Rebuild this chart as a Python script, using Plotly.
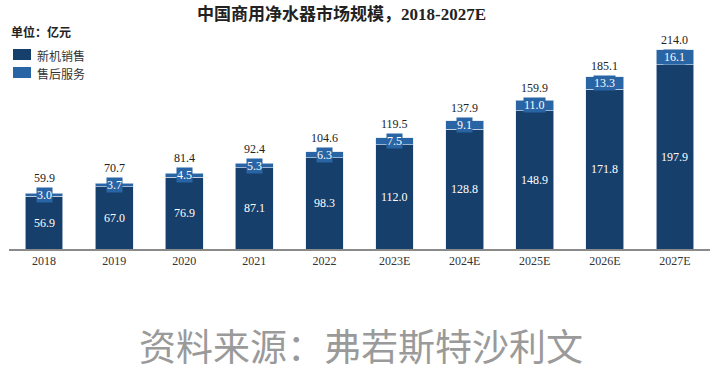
import plotly.graph_objects as go

years = ["2018", "2019", "2020", "2021", "2022", "2023E", "2024E", "2025E", "2026E", "2027E"]
new_sales = [56.9, 67.0, 76.9, 87.1, 98.3, 112.0, 128.8, 148.9, 171.8, 197.9]
after_sales = [3.0, 3.7, 4.5, 5.3, 6.3, 7.5, 9.1, 11.0, 13.3, 16.1]
totals = [59.9, 70.7, 81.4, 92.4, 104.6, 119.5, 137.9, 159.9, 185.1, 214.0]
series_names = ["新机销售", "售后服务"]

DARK = "#173f6c"
LIGHT = "#2964a5"
SERIF = "Times New Roman, Liberation Serif, Noto Sans CJK SC, serif"
SANS = "Noto Sans CJK SC, Noto Sans, sans-serif"

# plot area in pixels
L, R, T, B = 9, 710, 40, 249
W, H = R - L, B - T
def px(x): return (x - L) / W
def py(y): return (B - y) / H

YMAX = 224.7
PX_PER_UNIT = H / YMAX

fig = go.Figure()
edge = dict(color="rgba(220,228,238,0.8)", width=0.8)
fig.add_trace(go.Bar(x=years, y=new_sales, name=series_names[0], marker=dict(color=DARK, line=edge), showlegend=False))
fig.add_trace(go.Bar(x=years, y=after_sales, name=series_names[1], marker=dict(color=LIGHT, line=edge), showlegend=False))

ann = []
for i, yr in enumerate(years):
    ann.append(dict(x=i, y=new_sales[i] / 2, text=f"{new_sales[i]:.1f}", showarrow=False,
                    font=dict(family=SERIF, size=12, color="white")))
    ann.append(dict(x=i, y=new_sales[i] + after_sales[i] / 2, text=f"{after_sales[i]:.1f}", showarrow=False,
                    font=dict(family=SERIF, size=12, color="white"), bgcolor=LIGHT, borderpad=0))
    shift = max(1, 8 - after_sales[i] * PX_PER_UNIT / 2)
    ann.append(dict(x=i, y=totals[i], text=f"{totals[i]:.1f}", showarrow=False, yanchor="bottom", yshift=shift,
                    font=dict(family=SERIF, size=12, color="#222222")))

ann.append(dict(xref="paper", yref="paper", x=px(341), y=py(14), text="<b>中国商用净水器市场规模，2018-2027E</b>",
                showarrow=False, font=dict(family=SERIF, size=17, color="#222222"), xanchor="center", yanchor="middle"))
ann.append(dict(xref="paper", yref="paper", x=px(9), y=py(33), text="<b>单位：亿元</b>",
                showarrow=False, font=dict(family=SERIF, size=12, color="#222222"), xanchor="left", yanchor="middle"))
ann.append(dict(xref="paper", yref="paper", x=px(361), y=py(345), text="资料来源：弗若斯特沙利文",
                showarrow=False, font=dict(family=SANS, size=37, color="#9a9a9a"), xanchor="center", yanchor="middle"))

# custom legend
shapes = []
for k, (nm, col) in enumerate(zip(series_names, [DARK, LIGHT])):
    y0 = 49 + 18 * k
    shapes.append(dict(type="rect", xref="paper", yref="paper", x0=px(13), x1=px(31), y0=py(y0 + 11), y1=py(y0),
                       fillcolor=col, line=dict(width=0)))
    ann.append(dict(xref="paper", yref="paper", x=px(35), y=py(y0 + 6), text=nm, showarrow=False,
                    xanchor="left", yanchor="middle", font=dict(family=SANS, size=12, color="#333333")))

fig.update_layout(
    width=720, height=374,
    margin=dict(l=L, r=720 - R, t=T, b=374 - B),
    barmode="stack", bargap=0.46,
    plot_bgcolor="white", paper_bgcolor="white",
    showlegend=False,
    annotations=ann,
    shapes=shapes,
    xaxis=dict(type="category", range=[-0.5, 9.5], showline=True, linecolor="#8a8a8a", linewidth=1.5, ticks="", showgrid=False,
               tickfont=dict(family=SERIF, size=12, color="#333333")),
    yaxis=dict(range=[0, YMAX], visible=False, showgrid=False),
)

fig.write_html("out.html", config={"displayModeBar": False},
               post_script="document.body.style.margin='0';")
